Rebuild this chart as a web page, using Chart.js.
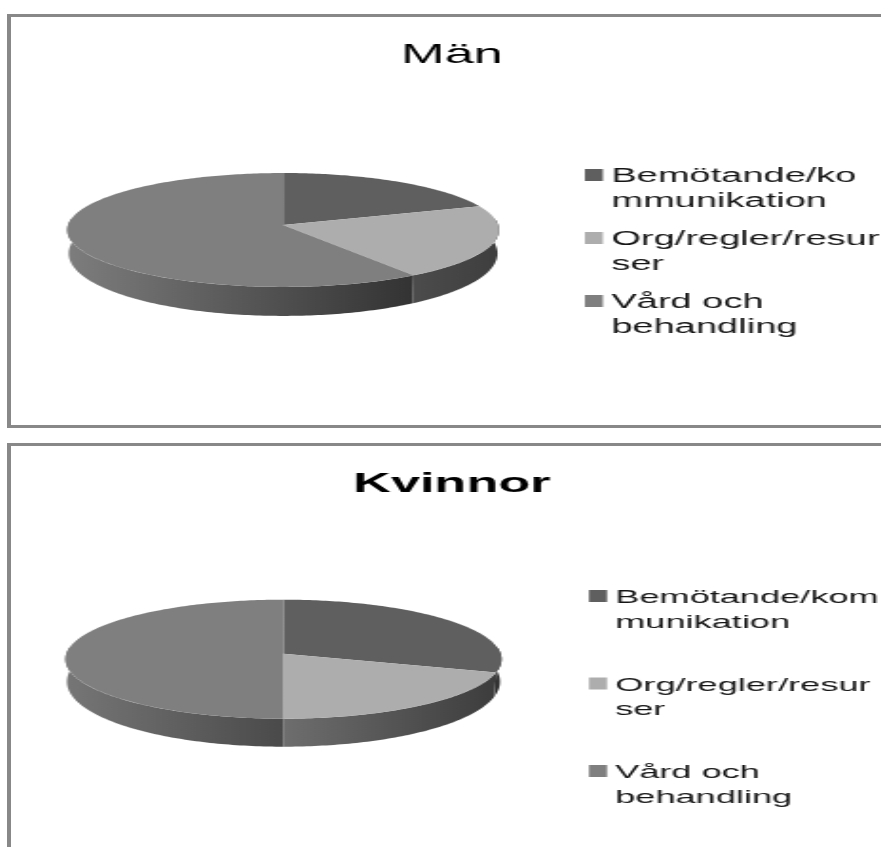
<!DOCTYPE html>
<html>
<head>
<meta charset="utf-8">
<title>Män och Kvinnor</title>
<script src="https://cdn.jsdelivr.net/npm/chart.js@4/dist/chart.umd.min.js"></script>
<style>
  html, body { margin: 0; height: 847px; overflow: hidden; background: #fff; }
  .frame {
    position: absolute; left: 7px; width: 874px; overflow: hidden;
    box-sizing: border-box; background: #fff;
    border-left: 4px solid #888; border-top: 3px solid #888;
  }
  #frameMen { top: 14px; height: 414px; border-bottom: 3px solid #888; }
  #frameWomen { top: 443px; height: 404px; }
  canvas { display: block; transform-origin: 0 0; transform: scaleX(1.9); }
</style>
</head>
<body>
<div class="frame" id="frameMen"><canvas id="chartMen" width="464" height="408"></canvas></div>
<div class="frame" id="frameWomen"><canvas id="chartWomen" width="464" height="408"></canvas></div>
<script>
var LABELS_MEN = [['Bemötande/ko', 'mmunikation'], ['Org/regler/resur', 'ser'], ['Vård och', 'behandling']];
var LABELS_WOMEN = [['Bemötande/kom', 'munikation'], ['Org/regler/resur', 'ser'], ['Vård och', 'behandling']];
var VALUES_MEN = [19.5, 21, 59.5];
var VALUES_WOMEN = [30, 20, 50];
var FACE_COLORS = ['#5f5f5f', '#adadad', '#7f7f7f'];

/* tilted disc: the near half of the rim comes out bigger than the far half */
function rimPoint(el, tilt, angle, lower) {
  var c = Math.cos(angle), s = Math.sin(angle);
  var w = 1 - tilt.k * s;
  var x = el.outerRadius * c / w, y = tilt.ry * s / w;
  if (lower) {
    x *= 0.993;
    y += tilt.depth + tilt.depthFront * s;
  }
  return { x: el.x + x, y: el.y + y };
}

function traceRim(ctx, el, tilt, from, to, lower) {
  var steps = Math.max(2, Math.ceil(Math.abs(to - from) * 60));
  for (var i = 0; i <= steps; i++) {
    var p = rimPoint(el, tilt, from + (to - from) * i / steps, lower);
    ctx.lineTo(p.x, p.y);
  }
}

var tiltedPie = {
  id: 'tiltedPie',
  /* the padding only places the pie, the title stays centred on the whole canvas */
  afterLayout: function (chart) {
    chart.titleBlock.left = 0;
    chart.titleBlock.right = chart.width;
  },
  beforeDatasetsDraw: function (chart, args, opts) {
    var ctx = chart.ctx, arcs = chart.getDatasetMeta(0).data;
    ctx.save();

    /* side wall, only the part of each slice that faces the viewer */
    arcs.forEach(function (el, i) {
      var a = Math.max(el.startAngle, -0.12), b = Math.min(el.endAngle, Math.PI + 0.12);
      if (b <= a) return;
      var left = rimPoint(el, opts, b, true).x, right = rimPoint(el, opts, a, true).x;
      var grad = ctx.createLinearGradient(left, 0, right, 0);
      grad.addColorStop(0, opts.wall[i][0]);
      grad.addColorStop(1, opts.wall[i][1]);
      ctx.fillStyle = grad;
      ctx.beginPath();
      traceRim(ctx, el, opts, a, b, false);
      traceRim(ctx, el, opts, b, a, true);
      ctx.closePath();
      ctx.fill();
    });

    /* top face */
    arcs.forEach(function (el, i) {
      ctx.fillStyle = el.options.backgroundColor;
      ctx.beginPath();
      ctx.moveTo(el.x, el.y);
      traceRim(ctx, el, opts, el.startAngle, el.endAngle, false);
      ctx.closePath();
      ctx.fill();
    });

    ctx.restore();
    return false;
  }
};

/* legend with hand broken lines, the swatch sits on the first line */
var sideLegend = {
  id: 'sideLegend',
  afterDraw: function (chart, args, opts) {
    var ctx = chart.ctx, colors = chart.data.datasets[0].backgroundColor;
    ctx.save();
    ctx.font = opts.fontSize + 'px "Liberation Sans"';
    ctx.textBaseline = 'alphabetic';
    chart.data.labels.forEach(function (lines, i) {
      var y = opts.top + i * opts.pitch;
      ctx.fillStyle = colors[i];
      ctx.fillRect(opts.boxX, y - 13, 9.5, 12);
      ctx.fillStyle = '#151515';
      lines.forEach(function (line, n) {
        ctx.fillText(line, opts.textX, y + n * opts.lineGap);
      });
    });
    ctx.restore();
  }
};

function makePie(canvasId, labels, values, conf) {
  return new Chart(document.getElementById(canvasId), {
    type: 'pie',
    data: {
      labels: labels,
      datasets: [{ data: values, backgroundColor: FACE_COLORS, borderWidth: 0 }]
    },
    options: {
      responsive: false,
      animation: false,
      devicePixelRatio: 1,
      events: [],
      layout: { padding: conf.padding },
      plugins: {
        legend: { display: false },
        tooltip: { enabled: false },
        title: {
          display: true,
          text: conf.title,
          color: '#000',
          font: { family: '"Liberation Sans"', size: conf.titleSize, weight: conf.titleWeight },
          padding: conf.titlePadding
        },
        tiltedPie: conf.tilt,
        sideLegend: conf.legend
      }
    },
    plugins: [tiltedPie, sideLegend]
  });
}

makePie('chartMen', LABELS_MEN, VALUES_MEN, {
  title: 'Män', titleSize: 27.5, titleWeight: 'normal',
  titlePadding: { top: 22, bottom: 39.4 },
  padding: { left: 30, right: 207.6, top: 0, bottom: 86.5 },
  tilt: {
    k: 0.088, ry: 56.5, depth: 23, depthFront: 6,
    wall: [['#555555', '#444444'], ['#4c4c4c', '#3f3f3f'], ['#7c7c7c', '#333333']]
  },
  legend: { fontSize: 20, boxX: 302, textX: 316, top: 165, pitch: 63, lineGap: 24.5 }
});

makePie('chartWomen', LABELS_WOMEN, VALUES_WOMEN, {
  title: 'Kvinnor', titleSize: 27.5, titleWeight: 'bold',
  titlePadding: { top: 22, bottom: 38.4 },
  padding: { left: 28.9, right: 206.1, top: 0, bottom: 86 },
  tilt: {
    k: 0.092, ry: 59, depth: 22, depthFront: 6,
    wall: [['#5a5a5a', '#333333'], ['#6e6e6e', '#3d3d3d'], ['#757575', '#4a4a4a']]
  },
  legend: { fontSize: 19.05, boxX: 304.2, textX: 318, top: 157, pitch: 87.5, lineGap: 24.5 }
});
</script>
</body>
</html>
